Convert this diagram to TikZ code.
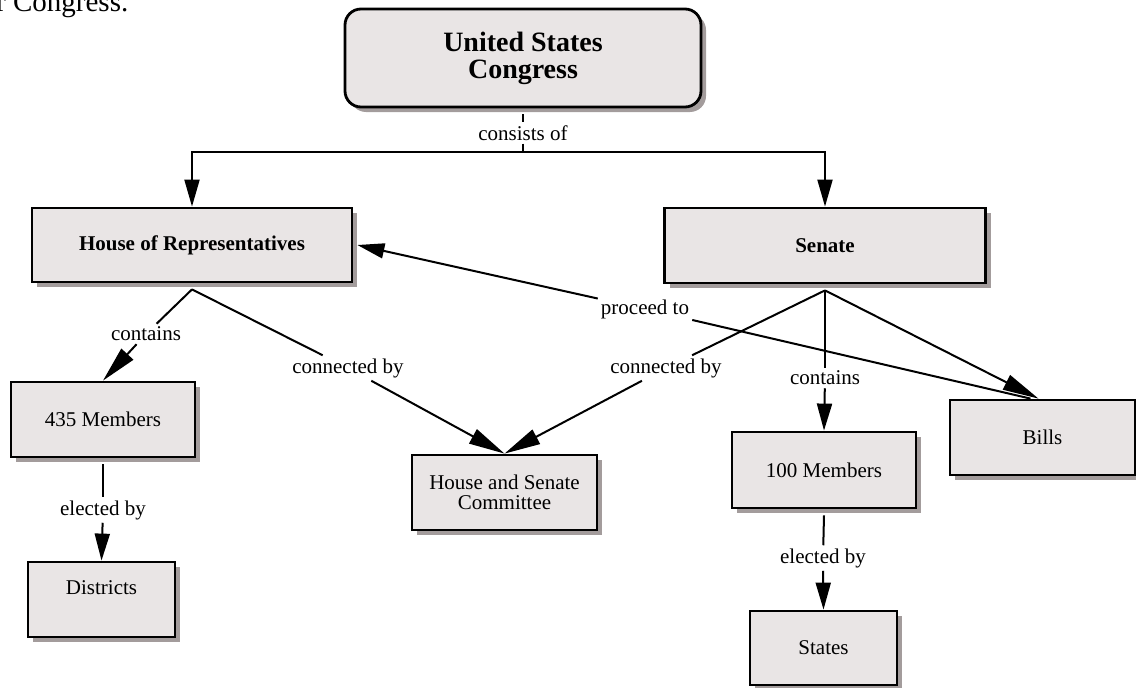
\documentclass[tikz,border=0pt]{standalone}
\usepackage{fontspec}
\setmainfont{Liberation Serif}
\usetikzlibrary{arrows.meta,shadows}
\definecolor{boxfill}{RGB}{233,229,229}
\definecolor{boxshade}{RGB}{163,156,156}
\begin{document}
\begin{tikzpicture}[x=1pt,y=-1pt,
  concept/.style={draw=black, line width=2.8pt, fill=boxfill, align=center,
    inner sep=2pt, font=\fontsize{21}{20}\selectfont,
    drop shadow={shadow xshift=5pt, shadow yshift=-5pt, fill=boxshade, opacity=1}},
  linklabel/.style={inner sep=3pt, font=\fontsize{21}{20}\selectfont},
  link/.style={line width=2pt},
  arr/.style={link, -{Triangle[length=27pt,width=15pt]}},
  longarr/.style={link, -{Triangle[length=36pt,width=16pt]}},
  headline/.style={font=\bfseries\fontsize{21}{20}\selectfont}]

\useasboundingbox (0,0) rectangle (1136,688);

% running text above the map
\node[anchor=base west, inner sep=0, font=\fontsize{29}{30}\selectfont] (caption) at (-4,11) {r Congress.};

% concepts
\node[concept, rounded corners=16pt, minimum width=356pt, minimum height=98pt,
      font=\bfseries\fontsize{28}{27}\selectfont] (congress) at (523,58) {United States\\Congress};
\node[concept, headline, minimum width=320pt, minimum height=74pt] (house) at (192,245) {House of Representatives};
\node[concept, headline, minimum width=321pt, minimum height=75pt] (senate) at (825,245.5) {Senate};
\node[concept, minimum width=184pt, minimum height=75pt] (m435) at (103,419.5) {435 Members};
\node[concept, minimum width=147pt, minimum height=75pt, text depth=24pt] (districts) at (101.5,599.5) {Districts};
\node[concept, minimum width=185pt, minimum height=75pt] (committee) at (504.5,492.5) {House and Senate\\Committee};
\node[concept, minimum width=184pt, minimum height=76pt] (m100) at (824,470) {100 Members};
\node[concept, minimum width=147pt, minimum height=74pt] (states) at (823.5,648) {States};
\node[concept, minimum width=185pt, minimum height=75pt] (bills) at (1042.5,437.5) {Bills};

% link labels
\node[linklabel] (consists) at (523,133) {consists of};
\node[linklabel] (containsL) at (146,334) {contains};
\node[linklabel] (connectedL) at (348,368) {connected by};
\node[linklabel] (connectedR) at (666,368) {connected by};
\node[linklabel] (proceed) at (645,309) {proceed to};
\node[linklabel] (containsR) at (825,378) {contains};
\node[linklabel] (electedL) at (103,510) {elected by};
\node[linklabel] (electedR) at (823,558) {elected by};
\coordinate (split) at (523,152);

% Congress splits into the two chambers
\draw[link] ([yshift=-6pt]congress.south) -- (consists);
\draw[link] (consists) -- (split);
\draw[arr] (split) -| (house.north);
\draw[arr] (split) -| (senate.north);

% House of Representatives
\draw[link] ([yshift=-6pt]house.south) -- (containsL);
\draw[longarr] (containsL) -- (m435.north);
\draw[link] ([yshift=-6pt]house.south) -- (connectedL);
\draw[longarr] (connectedL) -- (committee.north);
\draw[link] ([yshift=-6pt]m435.south) -- (electedL);
\draw[arr] (electedL) -- (districts.north);

% Senate
\draw[link] ([yshift=-6pt]senate.south) -- (connectedR);
\draw[longarr] (connectedR) -- (committee.north);
\draw[link] ([yshift=-6pt]senate.south) -- (containsR);
\draw[arr] (containsR) -- (m100.north);
\draw[longarr] ([yshift=-6pt]senate.south) -- ([xshift=-4pt]bills.north);
\draw[link] ([yshift=-6pt]m100.south) -- (electedR);
\draw[arr] (electedR) -- (states.north);

% Bills go back to the House
\draw[link] ([xshift=-12pt]bills.north) -- (proceed);
\draw[arr] (proceed) -- ([xshift=4pt]house.east);
\end{tikzpicture}
\end{document}
